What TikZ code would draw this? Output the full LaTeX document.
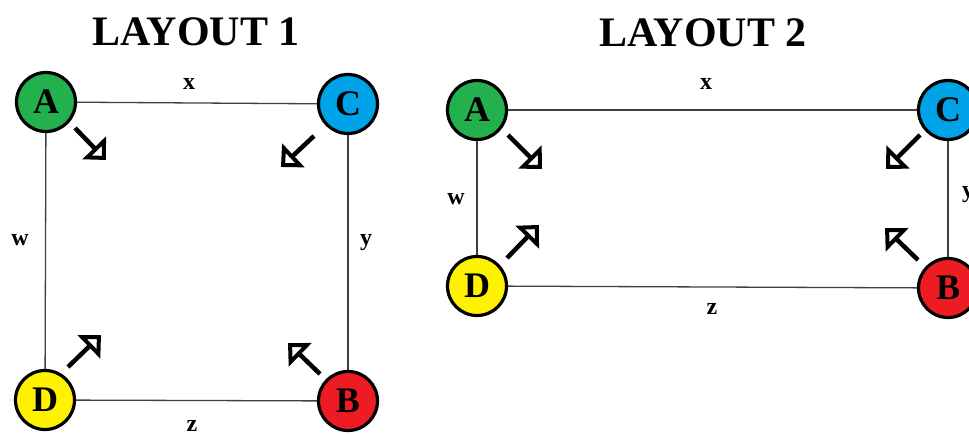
\documentclass[tikz,border=0pt]{standalone}
\usepackage{fontspec}
\setmainfont{Liberation Serif}
\usetikzlibrary{arrows.meta}
\definecolor{vgreen}{HTML}{22B14C}
\definecolor{vblue}{HTML}{00A2E8}
\definecolor{vyellow}{HTML}{FFF200}
\definecolor{vred}{HTML}{ED1C24}
\begin{document}
\begin{tikzpicture}[x=1pt,y=-1pt,
  vertex/.style={circle,draw=black,line width=3.2pt,minimum size=59pt,inner sep=0pt,
    font=\bfseries\fontsize{36}{36}\selectfont},
  edge/.style={draw=black!75,line width=1.3pt},
  elabel/.style={font=\bfseries\fontsize{24}{24}\selectfont,inner sep=0pt},
  title/.style={font=\bfseries\fontsize{42}{42}\selectfont,inner sep=0pt},
  move/.style={line width=4.5pt,-{Triangle[open,length=17pt,width=32pt,line width=4pt]}}]
\useasboundingbox (0,0) rectangle (969,435);

% ---- first layout: square ----
\node[title] (t1) at (196,32) {LAYOUT 1};
\node[vertex,fill=vgreen]  (A1) at (46,102) {A};
\node[vertex,fill=vblue]   (C1) at (348,104) {C};
\node[vertex,fill=vyellow] (D1) at (45,400) {D};
\node[vertex,fill=vred]    (B1) at (348,401) {B};
\draw[edge] (A1) -- (C1);
\draw[edge] (C1) -- (B1);
\draw[edge] (B1) -- (D1);
\draw[edge] (D1) -- (A1);
\node[elabel] (x1) at (189,84) {x};
\node[elabel] (w1) at (20,240) {w};
\node[elabel] (y1) at (366,243) {y};
\node[elabel] (z1) at (192,426) {z};
\coordinate (a1s) at (75,128);  \coordinate (a1e) at (106,160);
\coordinate (c1s) at (314,136); \coordinate (c1e) at (281,167);
\coordinate (d1s) at (68,367);  \coordinate (d1e) at (101,335);
\coordinate (b1s) at (320,374); \coordinate (b1e) at (288,343);
\draw[move] (a1s) -- (a1e);
\draw[move] (c1s) -- (c1e);
\draw[move] (d1s) -- (d1e);
\draw[move] (b1s) -- (b1e);

% ---- second layout: wide rectangle ----
\node[title] (t2) at (703,33) {LAYOUT 2};
\node[vertex,fill=vgreen]  (A2) at (477,110) {A};
\node[vertex,fill=vblue]   (C2) at (948,110) {C};
\node[vertex,fill=vyellow] (D2) at (477,286) {D};
\node[vertex,fill=vred]    (B2) at (948,288) {B};
\draw[edge] (A2) -- (C2);
\draw[edge] (C2) -- (B2);
\draw[edge] (B2) -- (D2);
\draw[edge] (D2) -- (A2);
\node[elabel] (x2) at (706,84) {x};
\node[elabel] (w2) at (456,199) {w};
\node[elabel] (y2) at (968,195) {y};
\node[elabel] (z2) at (712,309) {z};
\coordinate (a2s) at (508,135); \coordinate (a2e) at (542,169);
\coordinate (d2s) at (507,258); \coordinate (d2e) at (539,225);
\coordinate (c2s) at (920,135); \coordinate (c2e) at (886,169);
\coordinate (b2s) at (918,260); \coordinate (b2e) at (885,228);
\draw[move] (a2s) -- (a2e);
\draw[move] (d2s) -- (d2e);
\draw[move] (c2s) -- (c2e);
\draw[move] (b2s) -- (b2e);
\end{tikzpicture}
\end{document}
